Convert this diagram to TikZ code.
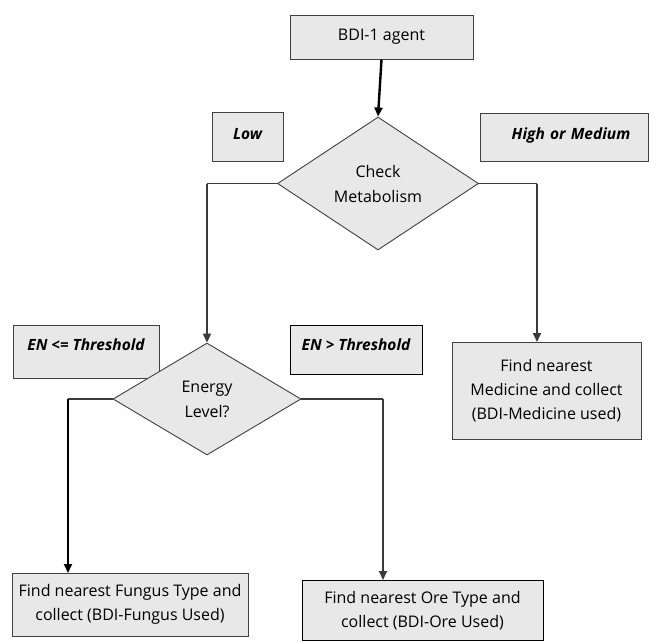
\documentclass[tikz,border=0pt]{standalone}
\usepackage{fontspec}
\setmainfont{Open Sans}
\usetikzlibrary{shapes.geometric,arrows.meta}
\definecolor{boxfill}{HTML}{E8E8E8}
\definecolor{boxline}{HTML}{404040}
\definecolor{flowline}{HTML}{3A3A3A}
\tikzset{
  box/.style={draw=boxline, fill=boxfill, line width=0.9pt, rectangle, inner sep=0pt, align=center, font=\fontsize{16}{24}\selectfont},
  tag/.style={box, font=\fontsize{15.5}{18}\selectfont\bfseries\itshape},
  decision/.style={draw=boxline, fill=boxfill, line width=0.9pt, diamond, inner sep=0pt, align=center, font=\fontsize{16}{25}\selectfont},
  arrowline/.style={draw=flowline, line width=2pt, -{Triangle[length=9pt,width=8pt]}},
  link/.style={draw=flowline, line width=1.3pt}
}
\begin{document}
\begin{tikzpicture}[x=1pt,y=-1pt]
\useasboundingbox (0,0) rectangle (649,641);

% process boxes
\node[box, minimum width=183pt, minimum height=44pt] (agent) at (381.5,37) {BDI-1 agent};
\node[box, minimum width=189pt, minimum height=97pt] (med) at (546.5,390.5) {Find nearest\\Medicine and collect\\(BDI-Medicine used)};
\node[box, minimum width=236pt, minimum height=63pt] (fungus) at (130,604.5) {Find nearest Fungus Type and\\collect (BDI-Fungus Used)};
\node[box, draw=black, minimum width=241pt, minimum height=60pt] (ore) at (422.5,610.5) {Find nearest Ore Type and\\collect (BDI-Ore Used)};

% branch labels
\node[tag, minimum width=71pt, minimum height=49pt, text depth=6pt] (low) at (247.5,136.5) {Low};
\node[tag, minimum width=168pt, minimum height=48pt, text width=168pt, align=center, text depth=6pt] (high) at (564,137) {\hspace*{14pt}High or Medium};
\node[tag, minimum width=146pt, minimum height=53pt, text depth=13pt] (le) at (86,351.5) {EN <= Threshold};
\node[tag, draw=black, minimum width=132pt, minimum height=49pt, text depth=10pt] (gt) at (356,349.5) {EN > Threshold};

% decisions
\node[decision, minimum width=201pt, minimum height=133pt] (check) at (378,183.5) {Check\\Metabolism};
\node[decision, minimum width=188pt, minimum height=112pt] (energy) at (207,399) {Energy\\Level?};

% connector ends
\coordinate (lcorner) at (check.west -| energy.north);
\coordinate (rcorner) at (537,183.5);
\coordinate (mtop) at (537,342);
\coordinate (elcorner) at (68,399);
\coordinate (ftop) at (68,573);
\coordinate (ercorner) at (383,399);
\coordinate (otop) at (383,580);

% connectors
\draw[arrowline, draw=black, line width=2.4pt] (agent.south) -- (check.north);
\draw[link] (check.west) -- (lcorner);
\draw[arrowline] (lcorner) -- (energy.north);
\draw[link] (check.east) -- (rcorner);
\draw[arrowline] (rcorner) -- (mtop);
\draw[link] (energy.west) -- (elcorner);
\draw[arrowline, draw=black] (elcorner) -- (ftop);
\draw[link] (energy.east) -- (ercorner);
\draw[arrowline] (ercorner) -- (otop);
\end{tikzpicture}
\end{document}
